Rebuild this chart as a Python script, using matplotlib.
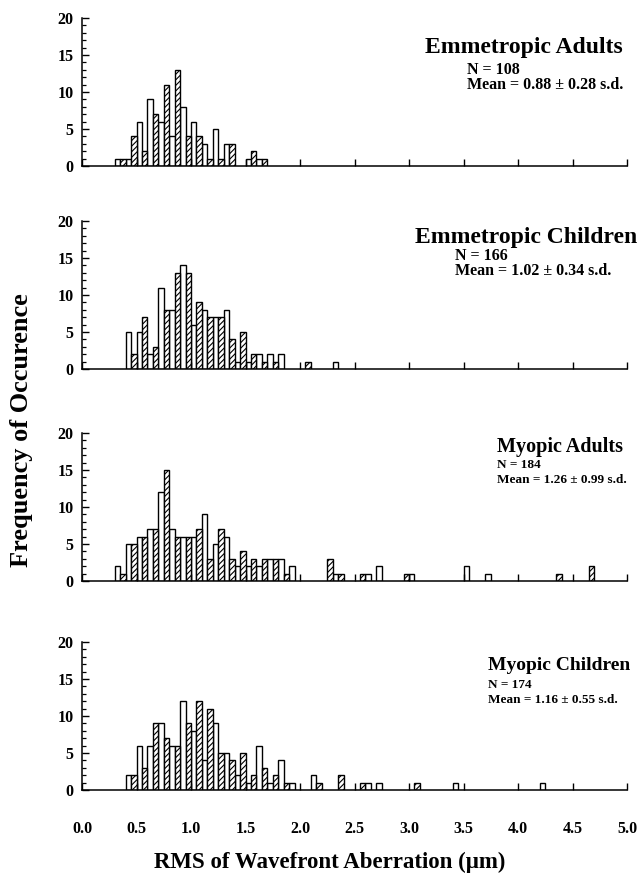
import numpy as np
import matplotlib
matplotlib.use("Agg")
import matplotlib.pyplot as plt

plt.rcParams["font.family"] = ["Liberation Serif", "DejaVu Serif"]
plt.rcParams["font.weight"] = "bold"
plt.rcParams["hatch.linewidth"] = 0.8

BIN = 0.05

# counts per 0.05 um bin, starting at the given left edge
adult_emm_start = 0.30
adult_emm = [1, 1, 1, 4, 6, 2, 9, 7, 6, 11, 4, 13, 8, 4, 6, 4, 3, 1, 5, 1,
             3, 3, 0, 0, 1, 2, 1, 1]

child_emm_start = 0.40
child_emm = [5, 2, 5, 7, 2, 3, 11, 8, 8, 13, 14, 13, 6, 9, 8, 7, 7, 7, 8, 4,
             1, 5, 1, 2, 2, 1, 2, 1, 2, 0, 0, 0, 0, 1, 0, 0, 0, 0, 1]

adult_myo_start = 0.30
adult_myo = [2, 1, 5, 5, 6, 6, 7, 7, 12, 15, 7, 6, 6, 6, 6, 7, 9, 3, 5, 7,
             6, 3, 2, 4, 2, 3, 2, 3, 3, 3, 3, 1, 2, 0, 0, 0, 0, 0, 0, 3,
             1, 1, 0, 0, 0, 1, 1, 0, 2, 0, 0, 0, 0, 1, 1, 0, 0, 0, 0, 0,
             0, 0, 0, 0, 2, 0, 0, 0, 1, 0, 0, 0, 0, 0, 0, 0, 0, 0, 0, 0,
             0, 1, 0, 0, 0, 0, 0, 2]

child_myo_start = 0.40
child_myo = [2, 2, 6, 3, 6, 9, 9, 7, 6, 6, 12, 9, 8, 12, 4, 11, 9, 5, 5, 4,
             2, 5, 1, 2, 6, 3, 1, 2, 4, 1, 1, 0, 0, 0, 2, 1, 0, 0, 0, 2,
             0, 0, 0, 1, 1, 0, 1, 0, 0, 0, 0, 0, 0, 1, 0, 0, 0, 0, 0, 0,
             1, 0, 0, 0, 0, 0, 0, 0, 0, 0, 0, 0, 0, 0, 0, 0, 1]

titles = ["Emmetropic Adults", "Emmetropic Children", "Myopic Adults", "Myopic Children"]
n_labels = ["N = 108", "N = 166", "N = 184", "N = 174"]
mean_labels = ["Mean = 0.88 \u00b1 0.28 s.d.", "Mean = 1.02 \u00b1 0.34 s.d.",
               "Mean = 1.26 \u00b1 0.99 s.d.", "Mean = 1.16 \u00b1 0.55 s.d."]

panels = [(adult_emm_start, adult_emm), (child_emm_start, child_emm),
          (adult_myo_start, adult_myo), (child_myo_start, child_myo)]

W, H = 638, 876
fig = plt.figure(figsize=(W / 100, H / 100), dpi=100)

# pixel layout
zero_y = [166, 369, 581, 790]
title_pos = [(623, 47), (637, 237), (623, 447), (630, 666)]
sub_pos = [(467, 70, 85), (455, 256, 271), (497, 465, 480), (488, 685, 700)]
title_size = [17, 17, 14.5, 14]
sub_size = [11.5, 11.5, 9.5, 9.5]

left_px, right_px, h_px = 82, 627, 148

for i, (start, counts) in enumerate(panels):
    ax = fig.add_axes([left_px / W, 1 - zero_y[i] / H, (right_px - left_px) / W, h_px / H])
    counts = np.array(counts)
    lefts = start + BIN * np.arange(len(counts))
    idx = np.round(lefts / BIN).astype(int)
    keep = counts > 0
    white = keep & (idx % 2 == 0)
    hatched = keep & (idx % 2 == 1)
    ax.bar(lefts[white], counts[white], width=BIN, align="edge",
           facecolor="white", edgecolor="black", linewidth=1.0)
    ax.bar(lefts[hatched], counts[hatched], width=BIN, align="edge",
           facecolor="white", edgecolor="black", linewidth=1.0, hatch="//////")

    ax.set_xlim(0, 5.0)
    ax.set_ylim(0, 20)
    ax.spines["top"].set_visible(False)
    ax.spines["right"].set_visible(False)
    for s in ("left", "bottom"):
        ax.spines[s].set_linewidth(1.1)
    ax.set_xticks(np.arange(0, 5.01, 0.5))
    ax.set_yticks([0, 5, 10, 15, 20])
    ax.set_yticks(np.arange(0, 21, 1), minor=True)
    ax.tick_params(axis="both", which="major", direction="in", length=5, width=1.0,
                   labelsize=11.5)
    ax.tick_params(axis="y", which="minor", direction="in", length=3, width=0.9)
    ax.tick_params(axis="y", pad=6)
    if i == 3:
        ax.set_xticklabels([f"{v:.1f}" for v in np.arange(0, 5.01, 0.5)])
        ax.tick_params(axis="x", pad=22)
    else:
        ax.set_xticklabels([])
    for lab in ax.get_xticklabels() + ax.get_yticklabels():
        lab.set_fontweight("bold")

    tx, ty = title_pos[i]
    fig.text(tx / W, 1 - ty / H, titles[i], ha="right", va="center",
             fontsize=title_size[i], fontweight="bold")
    sx, ny, my = sub_pos[i]
    fig.text(sx / W, 1 - ny / H, n_labels[i], ha="left", va="center",
             fontsize=sub_size[i], fontweight="bold")
    fig.text(sx / W, 1 - my / H, mean_labels[i], ha="left", va="center",
             fontsize=sub_size[i], fontweight="bold")

fig.text(22 / W, 1 - 430 / H, "Frequency of Occurence", rotation=90,
         ha="center", va="center", fontsize=19, fontweight="bold")
fig.text(330 / W, 1 - 862 / H, "RMS of Wavefront Aberration (\u03bcm)",
         ha="center", va="center", fontsize=16.5, fontweight="bold")

fig.savefig("out.png", dpi=100, facecolor="white")
